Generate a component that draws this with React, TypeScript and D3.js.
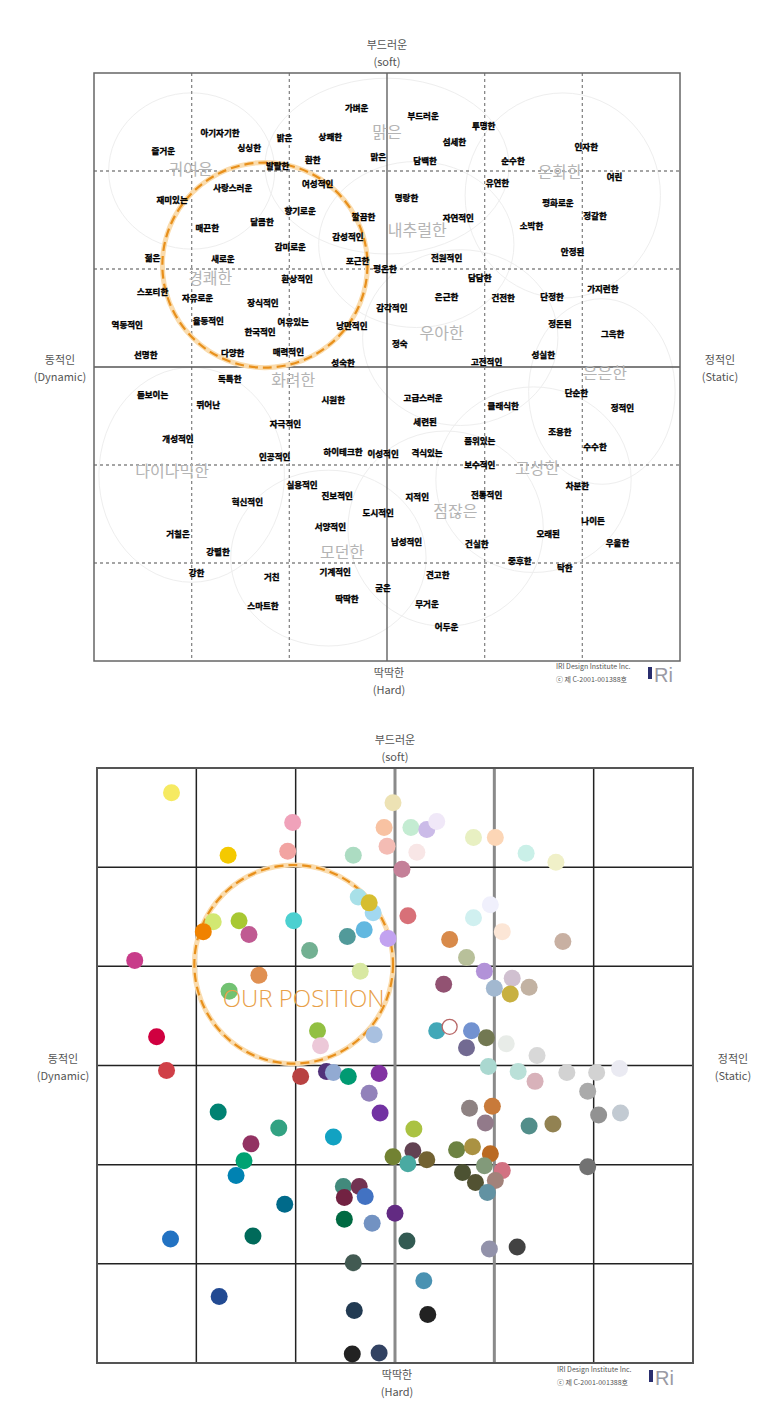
import * as d3 from "d3"

const W = 781
const H = 1408
const RANGE: [number, number] = [-3, 3]
const GRID = [-2, -1, 0, 1, 2]

// adjective image scale words: [label, dynamic(-)/static(+), hard(-)/soft(+)]
const topWords: [string, number, number][] = [
  ["가벼운", -0.31, 2.64], ["아기자기한", -1.71, 2.38], ["싱싱한", -1.41, 2.23], ["밝은", -1.05, 2.33],
  ["상쾌한", -0.58, 2.34], ["즐거운", -2.29, 2.2], ["맑은", -0.09, 2.14], ["환한", -0.76, 2.11],
  ["발랄한", -1.12, 2.04], ["사랑스러운", -1.58, 1.82], ["여성적인", -0.71, 1.86], ["재미있는", -2.2, 1.7],
  ["부드러운", 0.37, 2.55], ["투명한", 0.99, 2.45], ["섬세한", 0.69, 2.29], ["담백한", 0.39, 2.1],
  ["순수한", 1.29, 2.1], ["인자한", 2.04, 2.24], ["유연한", 1.13, 1.87], ["여린", 2.33, 1.93],
  ["명랑한", 0.2, 1.72], ["평화로운", 1.75, 1.67], ["향기로운", -0.89, 1.58], ["깔끔한", -0.24, 1.52],
  ["달콤한", -1.28, 1.47], ["매끈한", -1.84, 1.41], ["감성적인", -0.4, 1.32], ["감미로운", -0.99, 1.22],
  ["새로운", -1.68, 1.09], ["젊은", -2.4, 1.11], ["포근한", -0.3, 1.07], ["환상적인", -0.92, 0.89],
  ["스포티한", -2.4, 0.76], ["자유로운", -1.94, 0.7], ["장식적인", -1.27, 0.65], ["율동적인", -1.83, 0.46],
  ["역동적인", -2.66, 0.42], ["한국적인", -1.3, 0.35], ["여유있는", -0.96, 0.45], ["낭만적인", -0.36, 0.41],
  ["선명한", -2.47, 0.12], ["다양한", -1.58, 0.14], ["매력적인", -1.01, 0.15], ["성숙한", -0.45, 0.03],
  ["자연적인", 0.73, 1.51], ["소박한", 1.48, 1.43], ["정갈한", 2.13, 1.53], ["전원적인", 0.61, 1.11],
  ["안정된", 1.9, 1.17], ["평온한", -0.02, 0.99], ["담담한", 0.95, 0.9], ["은근한", 0.61, 0.71],
  ["건전한", 1.19, 0.7], ["단정한", 1.69, 0.71], ["가지런한", 2.21, 0.79], ["감각적인", 0.05, 0.59],
  ["정돈된", 1.77, 0.43], ["그윽한", 2.31, 0.33], ["정숙", 0.13, 0.23], ["성실한", 1.6, 0.12],
  ["고전적인", 1.02, 0.04], ["독특한", -1.61, -0.13], ["돋보이는", -2.4, -0.29], ["시원한", -0.55, -0.34],
  ["뛰어난", -1.83, -0.39], ["자극적인", -1.04, -0.59], ["개성적인", -2.14, -0.74], ["하이테크한", -0.45, -0.87],
  ["이성적인", -0.04, -0.89], ["인공적인", -1.15, -0.93], ["실용적인", -0.87, -1.21], ["진보적인", -0.51, -1.32],
  ["혁신적인", -1.43, -1.38], ["도시적인", -0.09, -1.5], ["서양적인", -0.58, -1.64], ["거칠은", -2.14, -1.71],
  ["고급스러운", 0.37, -0.32], ["클래식한", 1.19, -0.41], ["단순한", 1.94, -0.27], ["정적인", 2.41, -0.43],
  ["세련된", 0.39, -0.57], ["조용한", 1.77, -0.67], ["품위있는", 0.95, -0.76], ["격식있는", 0.41, -0.88],
  ["수수한", 2.13, -0.82], ["보수적인", 0.95, -1.01], ["차분한", 1.95, -1.22], ["전통적인", 1.02, -1.31],
  ["지적인", 0.31, -1.33], ["나이든", 2.11, -1.58], ["오래된", 1.65, -1.71], ["남성적인", 0.2, -1.79],
  ["건실한", 0.92, -1.81], ["우울한", 2.36, -1.8], ["중후한", 1.36, -1.99], ["탁한", 1.82, -2.06],
  ["견고한", 0.52, -2.13], ["굳은", -0.04, -2.26], ["무거운", 0.41, -2.43], ["어두운", 0.61, -2.66],
  ["강렬한", -1.73, -1.89], ["강한", -1.95, -2.11], ["거친", -1.18, -2.15], ["기계적인", -0.53, -2.1],
  ["딱딱한", -0.41, -2.37], ["스마트한", -1.27, -2.45],
]

const regionLabels: [string, number, number][] = [
  ["귀여운", -2.01, 2.0], ["맑은", 0.0, 2.38], ["온화한", 1.77, 1.97], ["내추럴한", 0.31, 1.38],
  ["경쾌한", -1.81, 0.89], ["우아한", 0.56, 0.33], ["화려한", -0.96, -0.15], ["은은한", 2.23, -0.08],
  ["다이나믹한", -2.2, -1.08], ["고상한", 1.54, -1.05], ["점잖은", 0.7, -1.49], ["모던한", -0.46, -1.9],
]

// faint region outlines: [cx, cy, rx, ry]
const regionBlobs: [number, number, number, number][] = [
  [-2.0, 2.0, 0.85, 0.8], [0.0, 2.05, 1.25, 0.9], [1.8, 1.75, 1.0, 1.05], [0.3, 1.25, 1.0, 0.85],
  [0.75, 0.3, 1.0, 0.9], [2.2, -0.25, 0.75, 0.95], [-2.0, -1.1, 0.95, 1.1], [1.5, -1.15, 1.0, 0.95],
  [0.6, -1.65, 1.0, 1.0], [-0.6, -1.95, 1.0, 0.9],
]

// colour dots: [x, y, fill]
const colorDots: [number, number, string][] = [
  [-2.25, 2.75, "#f6ea62"], [-1.03, 2.45, "#f0a2ba"], [-1.68, 2.12, "#f4c900"], [-1.08, 2.16, "#f2a4a2"],
  [-0.42, 2.12, "#acdcc2"], [-0.11, 2.4, "#f8c2a2"], [-0.08, 2.21, "#f4bcb4"], [-0.02, 2.65, "#ede2b4"],
  [0.16, 2.4, "#c4ecd2"], [0.32, 2.38, "#cbbbe8"], [0.42, 2.46, "#f0e8f8"], [0.22, 2.15, "#f8e6e6"],
  [0.79, 2.3, "#e8f0c2"], [1.01, 2.3, "#fcd6b6"], [1.32, 2.14, "#caf0e8"], [1.62, 2.05, "#f0f0c8"],
  [0.07, 1.98, "#c48098"], [0.13, 1.51, "#d87078"], [0.79, 1.49, "#d0f0f0"], [0.96, 1.62, "#f0f0fc"],
  [1.08, 1.35, "#fce6d6"], [0.55, 1.27, "#d88a4a"], [1.69, 1.25, "#c8b0a2"], [0.72, 1.09, "#b8c09a"],
  [0.9, 0.95, "#b292d8"], [0.49, 0.82, "#925272"], [1.18, 0.88, "#d0c0d0"], [1.0, 0.78, "#a2b8d0"],
  [1.16, 0.72, "#c8b040"], [1.35, 0.79, "#c2b2a2"],
  [-0.37, 1.7, "#a8e0e8"], [-0.22, 1.54, "#a2d8f0"], [-0.26, 1.64, "#d6be30"], [-1.83, 1.45, "#d2e872"],
  [-1.93, 1.35, "#f08200"], [-1.57, 1.46, "#a8c832"], [-1.47, 1.32, "#c05a92"], [-1.02, 1.46, "#4cd0d0"],
  [-0.48, 1.3, "#529a9a"], [-0.31, 1.37, "#62b8e0"], [-0.07, 1.28, "#c2a2f0"], [-0.86, 1.16, "#72b092"],
  [-2.62, 1.06, "#c83c8a"], [-1.37, 0.91, "#e09052"], [-0.35, 0.95, "#d8e8a2"], [-1.67, 0.75, "#72c272"],
  [-2.4, 0.29, "#d00040"], [-0.78, 0.35, "#92c042"], [-0.75, 0.2, "#ecc8d8"], [-0.21, 0.31, "#a8c0e0"],
  [-2.3, -0.05, "#d04048"],
  [0.42, 0.35, "#42a8b8"], [0.77, 0.35, "#7292d0"], [0.92, 0.28, "#727852"], [0.72, 0.18, "#726a92"],
  [1.12, 0.22, "#e8ece8"], [1.43, 0.1, "#d8d8d8"],
  [0.94, -0.01, "#aad8d0"], [1.24, -0.06, "#bae0d8"], [1.41, -0.16, "#d8b2ba"], [1.73, -0.07, "#d2d2d2"],
  [2.03, -0.07, "#d2d2d2"], [2.26, -0.03, "#eaeaf2"], [1.94, -0.26, "#aaaaaa"], [2.05, -0.5, "#929292"],
  [2.27, -0.48, "#c2cad2"], [0.75, -0.43, "#8e8282"], [0.98, -0.41, "#c87a3a"], [0.91, -0.58, "#927a8a"],
  [1.35, -0.61, "#528e8a"], [1.59, -0.59, "#928252"], [0.19, -0.64, "#aac242"], [0.62, -0.85, "#6c8242"],
  [0.78, -0.82, "#aa9242"], [0.18, -0.86, "#624252"], [-0.02, -0.92, "#728232"], [0.13, -0.99, "#4aaaa2"],
  [0.32, -0.95, "#726232"], [0.96, -0.89, "#ba6a22"], [0.9, -1.01, "#829a7a"], [1.08, -1.06, "#d27282"],
  [0.68, -1.08, "#4c5232"], [0.81, -1.18, "#525232"], [1.01, -1.16, "#a2827a"], [0.93, -1.28, "#6292a2"],
  [1.94, -1.02, "#727272"], [0.0, -1.49, "#622a82"], [0.12, -1.77, "#325a52"], [0.95, -1.85, "#9292aa"],
  [1.23, -1.83, "#424242"], [0.29, -2.17, "#4a92b2"], [0.33, -2.51, "#222222"],
  [-0.95, -0.11, "#b84242"], [-0.69, -0.06, "#52327a"], [-0.62, -0.07, "#92aad2"], [-0.47, -0.11, "#009a72"],
  [-0.16, -0.08, "#8232a2"], [-0.26, -0.28, "#9282ba"], [-0.15, -0.48, "#7232a2"], [-1.78, -0.47, "#008272"],
  [-1.17, -0.63, "#32a282"], [-0.62, -0.72, "#12a2c2"], [-1.45, -0.79, "#923262"], [-1.52, -0.96, "#00a272"],
  [-1.6, -1.11, "#0082b2"], [-0.52, -1.22, "#428a7c"], [-0.36, -1.22, "#723252"], [-0.51, -1.33, "#722242"],
  [-0.3, -1.32, "#4272c2"], [-1.11, -1.4, "#006a8a"], [-0.51, -1.55, "#006a42"], [-0.23, -1.59, "#7292c2"],
  [-2.26, -1.75, "#2272c2"], [-1.43, -1.72, "#006a5a"], [-0.42, -1.99, "#425a52"], [-1.77, -2.33, "#224a92"],
  [-0.41, -2.47, "#223a52"], [-0.43, -2.91, "#222222"], [-0.16, -2.9, "#324262"],
]
const openDots: [number, number][] = [[0.55, 0.39]]

const topCircle = { x: -1.25, y: 1.04, r: 1.05 }
const ourPosition = { x: -1.02, y: 1.02, r: 1.0 }

const FONT = "'Noto Sans CJK KR', 'Noto Sans', sans-serif"

function AxisLabels({ x, y }: { x: d3.ScaleLinear<number, number>; y: d3.ScaleLinear<number, number> }) {
  const cx = x(0)
  const cy = y(0)
  const style = { fontFamily: FONT, fontSize: 11, fill: "#555" }
  return (
    <g textAnchor="middle" style={style}>
      <text x={cx} y={y(3) - 24}>부드러운</text>
      <text x={cx} y={y(3) - 7}>(soft)</text>
      <text x={x(-3) - 34} y={cy - 3}>동적인</text>
      <text x={x(-3) - 34} y={cy + 14}>(Dynamic)</text>
      <text x={x(3) + 40} y={cy - 3}>정적인</text>
      <text x={x(3) + 40} y={cy + 14}>(Static)</text>
      <text x={cx + 2} y={y(-3) + 16}>딱딱한</text>
      <text x={cx + 2} y={y(-3) + 33}>(Hard)</text>
    </g>
  )
}

function Credit({ x, y }: { x: number; y: number }) {
  return (
    <g style={{ fontFamily: FONT }}>
      <text x={x} y={y} fontSize={7} fill="#555">IRI Design Institute Inc.</text>
      <text x={x} y={y + 13} fontSize={7} fill="#555">ⓒ 제 C-2001-001388호</text>
      <rect x={x + 92} y={y - 2} width={4} height={12} fill="#2a2e6e" />
      <text x={x + 98} y={y + 13} fontSize={20} fill="#9a9aa4" fontFamily="Liberation Sans, sans-serif">Ri</text>
    </g>
  )
}

export default function App() {
  const xT = d3.scaleLinear().domain(RANGE).range([94, 680])
  const yT = d3.scaleLinear().domain(RANGE).range([661, 73])
  const xB = d3.scaleLinear().domain(RANGE).range([97, 693])
  const yB = d3.scaleLinear().domain(RANGE).range([1363, 768])

  const kT = xT(1) - xT(0)
  const kB = xB(1) - xB(0)

  return (
    <svg width={W} height={H} style={{ position: "absolute", left: 0, top: 0, background: "#fff" }}>
      {/* ---------- top: word image scale ---------- */}
      <g>
        {regionBlobs.map(([a, b, rx, ry], i) => (
          <ellipse key={"blob" + i} cx={xT(a)} cy={yT(b)} rx={rx * kT} ry={ry * kT}
            fill="none" stroke="#eeeeee" strokeWidth={1} />
        ))}
        {GRID.map((g) => (
          <g key={"tg" + g}>
            <line x1={xT(g)} x2={xT(g)} y1={yT(3)} y2={yT(-3)}
              stroke={g === 0 ? "#555" : "#888"} strokeWidth={1.3} strokeDasharray={g === 0 ? undefined : "3 3"} />
            <line x1={xT(-3)} x2={xT(3)} y1={yT(g)} y2={yT(g)}
              stroke={g === 0 ? "#555" : "#888"} strokeWidth={1.3} strokeDasharray={g === 0 ? undefined : "3 3"} />
          </g>
        ))}
        <rect x={xT(-3)} y={yT(3)} width={xT(3) - xT(-3)} height={yT(-3) - yT(3)} fill="none" stroke="#666" strokeWidth={1.5} />

        {regionLabels.map(([t, a, b]) => (
          <text key={t} x={xT(a)} y={yT(b)} textAnchor="middle" dominantBaseline="middle"
            fontFamily={FONT} fontSize={16} fill="#b4b4b4">{t}</text>
        ))}

        <ellipse cx={xT(topCircle.x)} cy={yT(topCircle.y)} rx={topCircle.r * kT} ry={topCircle.r * kT}
          fill="none" stroke="#fadcae" strokeWidth={5} />
        <ellipse cx={xT(topCircle.x)} cy={yT(topCircle.y)} rx={topCircle.r * kT} ry={topCircle.r * kT}
          fill="none" stroke="#e8901c" strokeWidth={2.2} strokeDasharray="9 5" />

        {topWords.map(([t, a, b], i) => (
          <text key={i} x={xT(a)} y={yT(b)} textAnchor="middle" dominantBaseline="middle"
            fontFamily={FONT} fontSize={8.5} fontWeight={700} fill="#000" stroke="#000" strokeWidth={0.35}>{t}</text>
        ))}
        <AxisLabels x={xT} y={yT} />
        <Credit x={556} y={669} />
      </g>

      {/* ---------- bottom: colour image scale ---------- */}
      <g>
        {GRID.map((g) => (
          <g key={"bg" + g}>
            <line x1={xB(-3)} x2={xB(3)} y1={yB(g)} y2={yB(g)} stroke="#222" strokeWidth={1.5} />
            <line x1={xB(g)} x2={xB(g)} y1={yB(3)} y2={yB(-3)}
              stroke={g === 0 || g === 1 ? "#8a8a8a" : "#222"} strokeWidth={g === 0 || g === 1 ? 3 : 1.5} />
          </g>
        ))}
        <rect x={xB(-3)} y={yB(3)} width={xB(3) - xB(-3)} height={yB(-3) - yB(3)} fill="none" stroke="#555" strokeWidth={2} />

        <ellipse cx={xB(ourPosition.x)} cy={yB(ourPosition.y)} rx={ourPosition.r * kB} ry={ourPosition.r * kB}
          fill="none" stroke="#fadcae" strokeWidth={5} />
        <ellipse cx={xB(ourPosition.x)} cy={yB(ourPosition.y)} rx={ourPosition.r * kB} ry={ourPosition.r * kB}
          fill="none" stroke="#e8901c" strokeWidth={2.2} strokeDasharray="9 5" />

        {colorDots.map(([a, b, c], i) => (
          <circle key={i} cx={xB(a)} cy={yB(b)} r={8.5} fill={c} />
        ))}
        {openDots.map(([a, b], i) => (
          <circle key={"o" + i} cx={xB(a)} cy={yB(b)} r={7.5} fill="#fff" stroke="#b86868" strokeWidth={1.3} />
        ))}

        <text x={xB(ourPosition.x) + 10} y={yB(ourPosition.y) + 43} textAnchor="middle"
          fontFamily="'Open Sans', sans-serif" fontSize={24} fontWeight={300} fill="#e8a048">OUR POSITION</text>

        <AxisLabels x={xB} y={yB} />
        <Credit x={557} y={1372} />
      </g>
    </svg>
  )
}
